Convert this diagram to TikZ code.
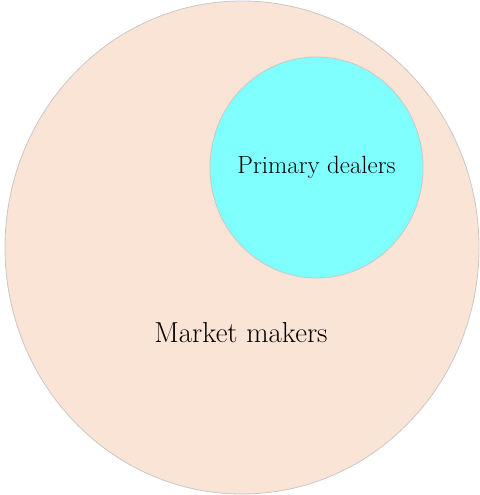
\documentclass[tikz,border=0pt]{standalone}
\usepackage{tikz}
\usetikzlibrary{shapes.geometric,positioning}

\definecolor{peach}{RGB}{250,228,213}
\definecolor{aqua}{RGB}{128,255,255}
\definecolor{rim}{RGB}{200,200,200}

\tikzset{
    set/.style={ellipse, draw=rim, line width=0.8bp, inner sep=0pt},
    setlabel/.style={text=black, inner sep=0pt}
}

\begin{document}
\begin{tikzpicture}[x=1bp,y=-1bp]
    \useasboundingbox (0,0) rectangle (480,495);   % page size

    % outer set
    \node[set, fill=peach, minimum width=474bp, minimum height=493bp] (makers) at (242,247.5) {};
    % inner set
    \node[set, fill=aqua, minimum width=213bp, minimum height=221bp] (dealers) at (316.5,167.5) {};

    % labels
    \node[setlabel, font=\fontsize{29}{32}\selectfont] (makerslabel) at (241,333) {Market makers};
    \node[setlabel, font=\fontsize{25}{28}\selectfont] (dealerslabel) at (dealers.center) {Primary dealers};
\end{tikzpicture}
\end{document}
